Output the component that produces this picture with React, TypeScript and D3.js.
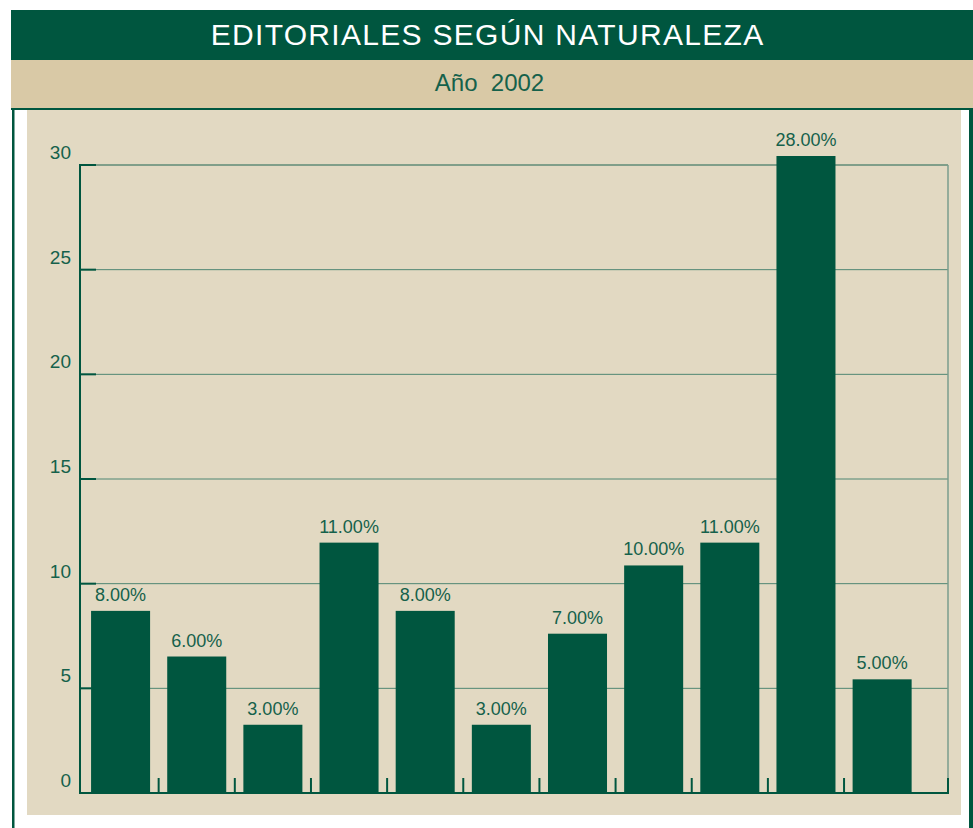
import React from "react";
import * as d3 from "d3";

const title = "EDITORIALES SEGÚN NATURALEZA";
const subtitle = "Año  2002";
const categories = ["c1", "c2", "c3", "c4", "c5", "c6", "c7", "c8", "c9", "c10", "c11"];
const values = [8.7, 6.52, 3.26, 11.96, 8.7, 3.26, 7.61, 10.87, 11.96, 30.43, 5.43];
const barLabels = ["8.00%", "6.00%", "3.00%", "11.00%", "8.00%", "3.00%", "7.00%", "10.00%", "11.00%", "28.00%", "5.00%"];
const yTicks = [0, 5, 10, 15, 20, 25, 30];

const GREEN = "#00563f";
const TEXT = "#15614b";

export default function App() {
  const W = 973;
  const H = 828;
  const frameLeft = 80;
  const frameRight = 948;
  const y = d3.scaleLinear().domain([0, 30]).range([793, 165]);
  const x = d3
    .scaleBand<string>()
    .domain(categories)
    .range([82.5, 920.2])
    .paddingInner(0.225)
    .paddingOuter(0.1125);
  const step = x.step();
  const bandStart = x.range()[0];
  const boundaries = d3.range(1, categories.length).map((k) => bandStart + step * k);
  const y0 = y(0);

  return (
    <svg
      width={W}
      height={H}
      style={{ position: "absolute", left: 0, top: 0, fontFamily: "'Liberation Sans', Arial, sans-serif" }}
    >
      <rect x={0} y={0} width={W} height={H} fill="#ffffff" />
      {/* title bar */}
      <rect x={11} y={10} width={W - 11} height={50} fill={GREEN} />
      <text x={487.6} y={44.5} textAnchor="middle" fill="#ffffff" fontSize={30} letterSpacing={1.3}>
        {title}
      </text>
      {/* subtitle bar */}
      <rect x={11} y={60} width={W - 11} height={48} fill="#d9c9a6" />
      <text x={489.5} y={91} textAnchor="middle" fill={TEXT} fontSize={24} style={{ whiteSpace: "pre" }}>
        {subtitle}
      </text>
      {/* outer frame */}
      <rect x={11} y={108} width={W - 11} height={2} fill={GREEN} />
      <rect x={12} y={108} width={2.5} height={H - 108} fill={GREEN} />
      <rect x={969} y={108} width={4} height={H - 108} fill={GREEN} />
      {/* plot background */}
      <rect x={27} y={110} width={934} height={705} fill="#e2d9c2" />

      {/* gridlines */}
      {yTicks.map((t) => (
        <line
          key={"g" + t}
          x1={frameLeft}
          x2={frameRight}
          y1={y(t)}
          y2={y(t)}
          stroke={t === 30 ? "#1f6450" : "#4f8672"}
          strokeWidth={1}
        />
      ))}
      <line x1={frameRight} x2={frameRight} y1={y(30)} y2={y0} stroke="#7a9d8c" strokeWidth={1.5} />

      {/* bars */}
      {categories.map((c, i) => (
        <rect key={c} x={x(c)} y={y(values[i])} width={x.bandwidth()} height={y0 - y(values[i])} fill={GREEN} />
      ))}
      {categories.map((c, i) => (
        <text
          key={"l" + c}
          x={(x(c) as number) + x.bandwidth() / 2}
          y={y(values[i]) - 10}
          textAnchor="middle"
          fill={TEXT}
          fontSize={18}
        >
          {barLabels[i]}
        </text>
      ))}

      {/* axes */}
      <line x1={frameLeft} x2={frameLeft} y1={y(30) - 1} y2={y0 + 1} stroke={GREEN} strokeWidth={2} />
      <line x1={frameLeft} x2={frameRight + 1} y1={y0} y2={y0} stroke={GREEN} strokeWidth={2} />
      {yTicks.map((t) => (
        <line key={"t" + t} x1={frameLeft} x2={frameLeft + 16} y1={y(t)} y2={y(t)} stroke={GREEN} strokeWidth={2} />
      ))}
      {boundaries.concat([frameRight]).map((b, i) => (
        <line key={"xt" + i} x1={b} x2={b} y1={y0 - 15} y2={y0} stroke={GREEN} strokeWidth={2} />
      ))}
      {yTicks.map((t) => (
        <text key={"yl" + t} x={71} y={y(t) - 6} textAnchor="end" fill={TEXT} fontSize={19}>
          {t}
        </text>
      ))}
    </svg>
  );
}
